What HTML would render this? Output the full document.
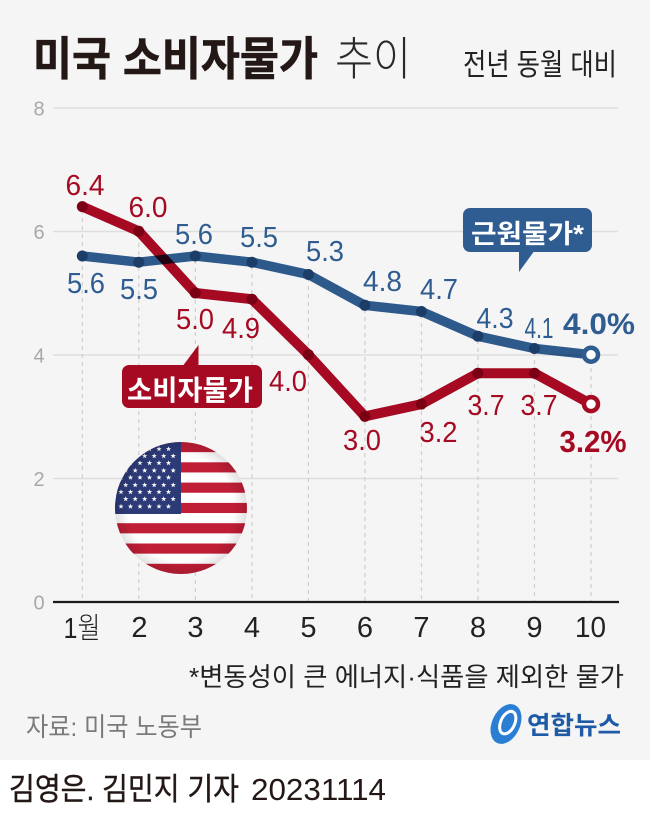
<!DOCTYPE html>
<html><head><meta charset="utf-8">
<style>
html,body{margin:0;padding:0;background:#fff;}
svg{display:block;}
text{font-family:"Liberation Sans","Noto Sans CJK KR",sans-serif;}
</style></head>
<body>
<svg width="650" height="819" viewBox="0 0 650 819" xmlns="http://www.w3.org/2000/svg">
<defs>
  <clipPath id="fc"><circle cx="181" cy="508" r="66"/></clipPath>
  <radialGradient id="sh" cx="0.5" cy="0.5" r="0.5">
    <stop offset="0.8" stop-color="#000" stop-opacity="0"/>
    <stop offset="1" stop-color="#000" stop-opacity="0.12"/>
  </radialGradient>
  <path id="st" d="M0,-2.8 L0.66,-0.9 L2.66,-0.87 L1.07,0.34 L1.65,2.27 L0,1.1 L-1.65,2.27 L-1.07,0.34 L-2.66,-0.87 L-0.66,-0.9Z" fill="#fff"/>
</defs>
<rect x="0" y="0" width="650" height="760" fill="#f5f5f5"/>
<rect x="0" y="760" width="650" height="59" fill="#ffffff"/>

<!-- Title -->
<text x="33" y="75" font-size="46" font-weight="bold" fill="#231815" stroke="#231815" stroke-width="0.6" textLength="285" lengthAdjust="spacingAndGlyphs">미국 소비자물가</text>
<text x="335" y="75" font-size="46" font-weight="300" fill="#2a2a2a" textLength="76" lengthAdjust="spacingAndGlyphs">추이</text>
<text x="463" y="75" font-size="30" fill="#222" textLength="154" lengthAdjust="spacingAndGlyphs">전년 동월 대비</text>

<!-- gridlines -->
<g stroke="#dedede" stroke-width="1.5">
  <line x1="53" y1="108" x2="618" y2="108"/>
  <line x1="53" y1="231.5" x2="618" y2="231.5"/>
  <line x1="53" y1="355" x2="618" y2="355"/>
  <line x1="53" y1="478.5" x2="618" y2="478.5"/>
</g>
<g font-size="20" fill="#a8a8a8" text-anchor="middle" font-weight="300">
  <text x="39" y="115.5">8</text>
  <text x="39" y="239">6</text>
  <text x="39" y="362.5">4</text>
  <text x="39" y="486">2</text>
  <text x="39" y="609.5">0</text>
</g>

<!-- dashed verticals -->
<g stroke="#cfcfcf" stroke-width="1.2" stroke-dasharray="4,4">
  <line x1="82.3" y1="210" x2="82.3" y2="601"/>
  <line x1="138.8" y1="235" x2="138.8" y2="601"/>
  <line x1="195.3" y1="260" x2="195.3" y2="601"/>
  <line x1="251.9" y1="266" x2="251.9" y2="601"/>
  <line x1="308.4" y1="278" x2="308.4" y2="601"/>
  <line x1="364.9" y1="309" x2="364.9" y2="601"/>
  <line x1="421.4" y1="315" x2="421.4" y2="601"/>
  <line x1="477.9" y1="340" x2="477.9" y2="601"/>
  <line x1="534.5" y1="352" x2="534.5" y2="601"/>
  <line x1="591" y1="360" x2="591" y2="601"/>
</g>

<!-- axis -->
<line x1="53" y1="602" x2="619" y2="602" stroke="#1a1a1a" stroke-width="2.2"/>

<!-- x labels -->
<g font-size="29" fill="#222" text-anchor="middle" font-weight="300">
  <text x="82" y="638" textLength="37" lengthAdjust="spacingAndGlyphs">1월</text>
  <text x="139.5" y="637">2</text>
  <text x="195.5" y="637">3</text>
  <text x="252" y="637">4</text>
  <text x="308.5" y="637">5</text>
  <text x="365" y="637">6</text>
  <text x="421.5" y="637">7</text>
  <text x="478" y="637">8</text>
  <text x="534.5" y="637">9</text>
  <text x="590.5" y="637" textLength="31" lengthAdjust="spacingAndGlyphs">10</text>
</g>

<!-- flag -->
<g clip-path="url(#fc)">
  <rect x="110" y="440" width="150" height="140" fill="#fff"/>
  <g fill="#bf1e36">
    <rect x="110" y="442" width="150" height="10.15"/>
    <rect x="110" y="462.3" width="150" height="10.15"/>
    <rect x="110" y="482.6" width="150" height="10.15"/>
    <rect x="110" y="502.9" width="150" height="10.15"/>
    <rect x="110" y="523.2" width="150" height="10.15"/>
    <rect x="110" y="543.5" width="150" height="10.15"/>
    <rect x="110" y="563.8" width="150" height="12"/>
  </g>
  <rect x="110" y="440" width="71" height="74" fill="#2c3a78"/>
  <g>
    <use href="#st" x="121" y="449"/><use href="#st" x="130.5" y="449"/><use href="#st" x="140" y="449"/><use href="#st" x="149.5" y="449"/><use href="#st" x="159" y="449"/><use href="#st" x="168.5" y="449"/>
    <use href="#st" x="125.7" y="456"/><use href="#st" x="135.2" y="456"/><use href="#st" x="144.7" y="456"/><use href="#st" x="154.2" y="456"/><use href="#st" x="163.7" y="456"/><use href="#st" x="173.2" y="456"/>
    <use href="#st" x="121" y="463"/><use href="#st" x="130.5" y="463"/><use href="#st" x="140" y="463"/><use href="#st" x="149.5" y="463"/><use href="#st" x="159" y="463"/><use href="#st" x="168.5" y="463"/>
    <use href="#st" x="125.7" y="470.5"/><use href="#st" x="135.2" y="470.5"/><use href="#st" x="144.7" y="470.5"/><use href="#st" x="154.2" y="470.5"/><use href="#st" x="163.7" y="470.5"/><use href="#st" x="173.2" y="470.5"/>
    <use href="#st" x="121" y="477.5"/><use href="#st" x="130.5" y="477.5"/><use href="#st" x="140" y="477.5"/><use href="#st" x="149.5" y="477.5"/><use href="#st" x="159" y="477.5"/><use href="#st" x="168.5" y="477.5"/>
    <use href="#st" x="125.7" y="485"/><use href="#st" x="135.2" y="485"/><use href="#st" x="144.7" y="485"/><use href="#st" x="154.2" y="485"/><use href="#st" x="163.7" y="485"/><use href="#st" x="173.2" y="485"/>
    <use href="#st" x="121" y="492"/><use href="#st" x="130.5" y="492"/><use href="#st" x="140" y="492"/><use href="#st" x="149.5" y="492"/><use href="#st" x="159" y="492"/><use href="#st" x="168.5" y="492"/>
    <use href="#st" x="125.7" y="499"/><use href="#st" x="135.2" y="499"/><use href="#st" x="144.7" y="499"/><use href="#st" x="154.2" y="499"/><use href="#st" x="163.7" y="499"/><use href="#st" x="173.2" y="499"/>
    <use href="#st" x="121" y="506.5"/><use href="#st" x="130.5" y="506.5"/><use href="#st" x="140" y="506.5"/><use href="#st" x="149.5" y="506.5"/><use href="#st" x="159" y="506.5"/><use href="#st" x="168.5" y="506.5"/>
  </g>
  <circle cx="181" cy="508" r="66" fill="url(#sh)"/>
</g>

<!-- red CPI line -->
<polyline fill="none" stroke="#a50a22" stroke-width="10" stroke-linejoin="round" stroke-linecap="round"
  points="82.3,206.6 138.8,231.3 195.3,293 251.9,299.2 308.4,354.7 364.9,416.4 421.4,404.1 477.9,373.2 534.5,373.2 591,404.1"/>
<g fill="#7c0014">
  <circle cx="82.3" cy="206.6" r="5.5"/><circle cx="138.8" cy="231.3" r="5.5"/><circle cx="195.3" cy="293" r="5.5"/><circle cx="251.9" cy="299.2" r="5.5"/><circle cx="308.4" cy="354.7" r="5.5"/><circle cx="364.9" cy="416.4" r="5.5"/><circle cx="421.4" cy="404.1" r="5.5"/><circle cx="477.9" cy="373.2" r="5.5"/><circle cx="534.5" cy="373.2" r="5.5"/>
</g>
<circle cx="591" cy="404.1" r="7" fill="#fff" stroke="#a50a22" stroke-width="4.5"/>

<!-- blue core line -->
<polyline fill="none" stroke="#2f5d91" stroke-width="9.5" stroke-linejoin="round" stroke-linecap="round" style="mix-blend-mode:multiply"
  points="82.3,256 138.8,262.2 195.3,256 251.9,262.2 308.4,274.5 364.9,305.3 421.4,311.5 477.9,336.2 534.5,348.5 591,354.7"/>
<g fill="#1b3d68">
  <circle cx="82.3" cy="256" r="5.5"/><circle cx="138.8" cy="262.2" r="5.5"/><circle cx="195.3" cy="256" r="5.5"/><circle cx="251.9" cy="262.2" r="5.5"/><circle cx="308.4" cy="274.5" r="5.5"/><circle cx="364.9" cy="305.3" r="5.5"/><circle cx="421.4" cy="311.5" r="5.5"/><circle cx="477.9" cy="336.2" r="5.5"/><circle cx="534.5" cy="348.5" r="5.5"/>
</g>
<circle cx="591" cy="354.7" r="7" fill="#fff" stroke="#2f5d91" stroke-width="4.5"/>

<!-- red labels -->
<g font-size="29" fill="#a50a22" text-anchor="middle" font-weight="300">
  <text x="85" y="195" textLength="39" lengthAdjust="spacingAndGlyphs">6.4</text>
  <text x="148" y="217" textLength="39" lengthAdjust="spacingAndGlyphs">6.0</text>
  <text x="195" y="329" textLength="38" lengthAdjust="spacingAndGlyphs">5.0</text>
  <text x="241" y="338" textLength="38" lengthAdjust="spacingAndGlyphs">4.9</text>
  <text x="288" y="391" textLength="38" lengthAdjust="spacingAndGlyphs">4.0</text>
  <text x="362" y="450" textLength="38" lengthAdjust="spacingAndGlyphs">3.0</text>
  <text x="438.5" y="442" textLength="38" lengthAdjust="spacingAndGlyphs">3.2</text>
  <text x="486" y="415" textLength="37" lengthAdjust="spacingAndGlyphs">3.7</text>
  <text x="539" y="415" textLength="37" lengthAdjust="spacingAndGlyphs">3.7</text>
</g>
<text x="593" y="452" font-size="31" font-weight="bold" fill="#a50a22" text-anchor="middle" textLength="67" lengthAdjust="spacingAndGlyphs">3.2%</text>

<!-- blue labels -->
<g font-size="29" fill="#2f5d91" text-anchor="middle" font-weight="300">
  <text x="86" y="293" textLength="38" lengthAdjust="spacingAndGlyphs">5.6</text>
  <text x="139" y="299" textLength="38" lengthAdjust="spacingAndGlyphs">5.5</text>
  <text x="194" y="244" textLength="38" lengthAdjust="spacingAndGlyphs">5.6</text>
  <text x="259" y="247" textLength="38" lengthAdjust="spacingAndGlyphs">5.5</text>
  <text x="325" y="261" textLength="38" lengthAdjust="spacingAndGlyphs">5.3</text>
  <text x="382.5" y="291" textLength="39" lengthAdjust="spacingAndGlyphs">4.8</text>
  <text x="439" y="299" textLength="38" lengthAdjust="spacingAndGlyphs">4.7</text>
  <text x="495" y="328" textLength="37" lengthAdjust="spacingAndGlyphs">4.3</text>
  <text x="539" y="338" textLength="29" lengthAdjust="spacingAndGlyphs">4.1</text>
</g>
<text x="599" y="334" font-size="30" font-weight="bold" fill="#2f5d91" text-anchor="middle" textLength="72" lengthAdjust="spacingAndGlyphs">4.0%</text>

<!-- legend: core -->
<rect x="463" y="208" width="129" height="44" rx="7" fill="#2f5d91"/>
<polygon points="519,250 535,250 519,272" fill="#2f5d91"/>
<text x="527.5" y="243" font-size="26" font-weight="bold" fill="#fff" text-anchor="middle" textLength="113" lengthAdjust="spacingAndGlyphs">근원물가*</text>

<!-- legend: CPI -->
<rect x="122" y="365" width="140" height="43" rx="7" fill="#a50a22"/>
<polygon points="182,367 198.5,367 198.5,345" fill="#a50a22"/>
<text x="190" y="400" font-size="28" font-weight="bold" fill="#fff" text-anchor="middle" textLength="126" lengthAdjust="spacingAndGlyphs">소비자물가</text>

<!-- footnote -->
<text x="189" y="686" font-size="26" fill="#222" textLength="435" lengthAdjust="spacingAndGlyphs">*변동성이 큰 에너지·식품을 제외한 물가</text>
<text x="26" y="736" font-size="26" fill="#7a7a7a" textLength="176" lengthAdjust="spacingAndGlyphs">자료: 미국 노동부</text>

<!-- logo -->
<g transform="translate(506,724) rotate(25)">
  <ellipse cx="0" cy="0" rx="14" ry="21" fill="#2a7fd4"/>
  <ellipse cx="1" cy="-2" rx="7" ry="12" fill="none" stroke="#fff" stroke-width="3"/>
</g>
<text x="527" y="734" font-size="25" font-weight="bold" fill="#1f5aa6" textLength="94" lengthAdjust="spacingAndGlyphs">연합뉴스</text>

<!-- byline -->
<text x="9" y="800" font-size="31" fill="#231815" stroke="#231815" stroke-width="0.4" textLength="230" lengthAdjust="spacingAndGlyphs">김영은. 김민지 기자</text>
<text x="251" y="800" font-size="31" fill="#231815" textLength="135" lengthAdjust="spacingAndGlyphs">20231114</text>
</svg>
</body></html>
